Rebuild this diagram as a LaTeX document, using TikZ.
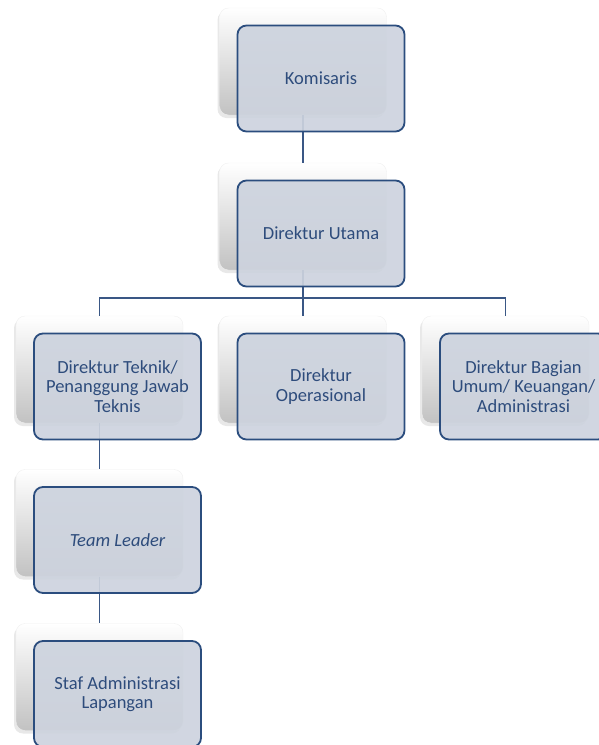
\documentclass[tikz,border=0pt]{standalone}
\usepackage{fontspec}
\setmainfont{Carlito}
\usetikzlibrary{shadows}
\definecolor{boxline}{HTML}{2B4D7E}
\definecolor{boxfill}{HTML}{CDD3DE}
\definecolor{boxtext}{HTML}{2E4C7C}
\definecolor{linkline}{HTML}{3A5785}
\begin{document}
\begin{tikzpicture}[x=1pt,y=-1pt,
  back/.style={rounded corners=9pt,minimum width=167pt,minimum height=107pt,
    top color=white,bottom color=black!24,draw=black!6,
    drop shadow={shadow xshift=-2pt,shadow yshift=-3pt,opacity=0.18}},
  front/.style={draw=boxline,line width=1.8pt,rounded corners=9pt,fill=boxfill,fill opacity=0.92,
    text opacity=1,minimum width=167pt,minimum height=106pt,align=center,
    text=boxtext,font=\fontsize{18.5}{19.5}\selectfont},
  link/.style={draw=linkline,line width=1.4pt}]
\useasboundingbox (0,0) rectangle (598,745);
% back boxes
\node[back](komB) at (303,61.5){};
\node[back](dirutB) at (303,216.5){};
\node[back](tekB) at (99.5,369.5){};
\node[back](opsB) at (303,369.5){};
\node[back](umumB) at (505.5,369.5){};
\node[back](teamB) at (99.5,523){};
\node[back](stafB) at (99.5,677){};
\coordinate(bus) at (0,298);
% connectors
\draw[link](komB.south) -- (dirutB.north);
\draw[link](dirutB.south) -- (dirutB.south |- bus);
\draw[link](tekB.north) -- (tekB.north |- bus) -- (umumB.north |- bus) -- (umumB.north);
\draw[link](opsB.north) -- (opsB.north |- bus);
\draw[link](tekB.south) -- (teamB.north);
\draw[link](teamB.south) -- (stafB.north);
% front boxes
\node[front](kom) at ([shift={(18,17)}]komB){Komisaris};
\node[front](dirut) at ([shift={(18,17)}]dirutB){Direktur Utama};
\node[front](tek) at ([shift={(18,17)}]tekB){Direktur Teknik/\\Penanggung Jawab\\Teknis};
\node[front](ops) at ([shift={(18,17)}]opsB){Direktur\\Operasional};
\node[front](umum) at ([shift={(18,17)}]umumB){Direktur Bagian\\Umum/ Keuangan/\\Administrasi};
\node[front](team) at ([shift={(18,17)}]teamB){\itshape Team Leader};
\node[front](staf) at ([shift={(18,17)}]stafB){Staf Administrasi\\Lapangan};
\end{tikzpicture}
\end{document}
